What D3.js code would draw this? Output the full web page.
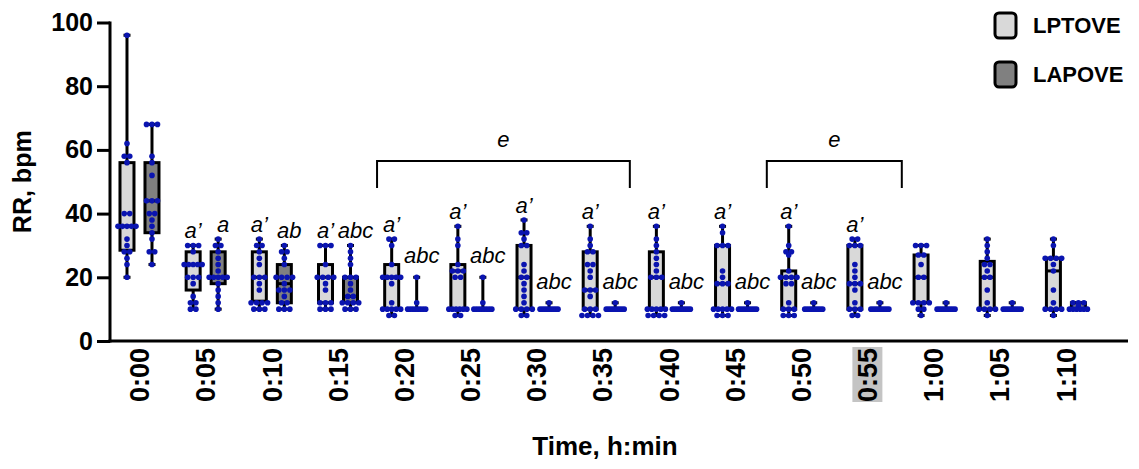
<!DOCTYPE html>
<html>
<head>
<meta charset="utf-8">
<script src="https://cdn.jsdelivr.net/npm/d3@7"></script>
<style>
  body { margin: 0; background: #fff; }
  text { font-family: "Liberation Sans", Arial, sans-serif; }
</style>
</head>
<body>
<script>
// time points (h:min)
const times = ["0:00","0:05","0:10","0:15","0:20","0:25","0:30","0:35","0:40","0:45","0:50","0:55","1:00","1:05","1:10"];
const seriesNames = ["LPTOVE", "LAPOVE"];

// box stats: [min, q1, median, q3, max]
const lptoveBox = [
  [20, 28.5, 36, 56, 96], [10, 16, 24, 28, 30], [10, 12.5, 20, 28, 32], [10, 12, 20, 24, 30],
  [8, 10, 20, 24, 32], [8, 10, 22, 24, 36], [8, 10, 20, 30, 38], [8, 10, 16, 28, 36],
  [8, 10, 20, 28, 36], [8, 10, 18, 30, 36], [8, 10, 20, 22, 36], [8, 10, 18, 30, 32],
  [8, 12, 20, 27, 30], [8, 10, 20, 25, 32], [8, 10, 22, 26, 32]
];
const lapoveBox = [
  [24, 34, 44, 56, 68], [10, 18, 20, 28, 32], [10, 12, 18, 24, 30], [10, 12, 14, 20, 30],
  [10, 10, 10, 10, 20], [10, 10, 10, 10, 20], [10, 10, 10, 10, 12], [10, 10, 10, 10, 12],
  [10, 10, 10, 10, 12], [10, 10, 10, 10, 12], [10, 10, 10, 10, 12], [10, 10, 10, 10, 12],
  [10, 10, 10, 10, 12], [10, 10, 10, 10, 12], [10, 10, 10, 12, 12]
];

// individual animals
const lptovePoints = [
  [96, 62, 58, 58, 56, 40, 40, 36, 36, 36, 36, 36, 32, 30, 28, 28, 26, 24, 20],
  [30, 30, 30, 28, 24, 24, 24, 24, 24, 20, 20, 20, 18, 14, 12, 12, 10, 10],
  [32, 30, 30, 28, 26, 24, 20, 20, 20, 18, 16, 12, 12, 12, 12, 10, 10, 10],
  [30, 30, 30, 24, 20, 20, 20, 20, 18, 16, 12, 12, 12, 10, 10, 10],
  [32, 32, 30, 24, 20, 20, 20, 20, 20, 18, 12, 10, 10, 10, 10, 10, 8, 8],
  [36, 32, 30, 24, 22, 22, 22, 20, 20, 10, 10, 10, 10, 10, 10, 8, 8],
  [38, 34, 34, 32, 30, 30, 24, 22, 20, 20, 18, 16, 14, 12, 10, 10, 10, 10, 8, 8],
  [36, 32, 30, 28, 28, 24, 24, 22, 20, 16, 16, 16, 14, 10, 10, 10, 8, 8, 8, 8],
  [36, 32, 30, 28, 26, 24, 22, 20, 20, 20, 10, 10, 10, 10, 10, 8, 8, 8, 8],
  [36, 34, 30, 30, 30, 22, 20, 18, 18, 18, 10, 10, 10, 10, 10, 8, 8, 8],
  [36, 30, 28, 28, 27, 22, 20, 20, 20, 20, 18, 18, 12, 10, 10, 10, 8, 8, 8],
  [32, 32, 30, 30, 30, 24, 22, 20, 18, 18, 18, 16, 12, 10, 10, 10, 8, 8],
  [30, 30, 30, 27, 27, 24, 20, 20, 12, 12, 12, 12, 10, 10, 8],
  [32, 30, 28, 26, 24, 24, 22, 20, 20, 16, 12, 10, 10, 10, 10, 8],
  [32, 30, 26, 26, 26, 26, 24, 22, 16, 12, 10, 10, 10, 10, 8]
];
const lapovePoints = [
  [68, 68, 68, 58, 56, 52, 44, 44, 44, 40, 40, 38, 36, 34, 32, 28, 28, 24],
  [32, 30, 30, 28, 26, 24, 22, 20, 20, 20, 20, 20, 18, 16, 14, 12, 10],
  [30, 28, 28, 26, 24, 20, 20, 20, 20, 18, 16, 16, 16, 14, 12, 12, 10, 10, 10],
  [30, 28, 26, 24, 20, 20, 20, 18, 16, 14, 14, 12, 12, 12, 12, 10, 10, 10],
  [20, 12, 10, 10, 10, 10, 10, 10, 10, 10],
  [20, 12, 10, 10, 10, 10, 10, 10, 10, 10],
  [12, 10, 10, 10, 10, 10, 10, 10, 10, 10],
  [12, 10, 10, 10, 10, 10, 10, 10, 10, 10],
  [12, 10, 10, 10, 10, 10, 10, 10, 10, 10],
  [12, 10, 10, 10, 10, 10, 10, 10, 10, 10],
  [12, 10, 10, 10, 10, 10, 10, 10, 10, 10],
  [12, 10, 10, 10, 10, 10, 10, 10, 10, 10],
  [12, 10, 10, 10, 10, 10, 10, 10, 10, 10],
  [12, 10, 10, 10, 10, 10, 10, 10, 10, 10],
  [12, 12, 12, 11, 10, 10, 10, 10, 10, 10]
];

// significance letters
const lptoveLetters = ["", "a’", "a’", "a’", "a’", "a’", "a’", "a’", "a’", "a’", "a’", "a’", "", "", ""];
const lapoveLetters = ["", "a", "ab", "abc", "abc", "abc", "abc", "abc", "abc", "abc", "abc", "abc", "", "", ""];
const brackets = [["0:20", "0:35", "e"], ["0:50", "0:55", "e"]];
const yTicks = [0, 20, 40, 60, 80, 100];

const W = 1139, H = 469;
const svg = d3.select("body").append("svg").attr("width", W).attr("height", H);

const x = d3.scaleBand().domain(times).range([106.4, 1099]);
const y = d3.scaleLinear().domain([0, 100]).range([341, 22.5]);
const off = { LPTOVE: -12.5, LAPOVE: 12.5 };
const fills = { LPTOVE: "#d9d9d9", LAPOVE: "#808080" };
const dotColor = "#0a14b0";
const bw = 14;

const series = [
  { name: "LPTOVE", box: lptoveBox, pts: lptovePoints, letters: lptoveLetters },
  { name: "LAPOVE", box: lapoveBox, pts: lapovePoints, letters: lapoveLetters }
];

// axes
const yAxis = svg.append("g")
  .attr("transform", "translate(110,0)")
  .call(d3.axisLeft(y).tickValues(yTicks).tickSize(13).tickSizeOuter(0).tickPadding(4));
yAxis.select(".domain").attr("stroke-width", 3).attr("d", `M0,${y(0) + 1.5}V${y(100) - 1}`);
yAxis.selectAll(".tick line").attr("stroke-width", 3);
yAxis.selectAll(".tick text").attr("font-size", 25).attr("font-weight", "bold").attr("fill", "#000");

const xAxis = svg.append("g")
  .attr("transform", `translate(0,${y(0)})`)
  .call(d3.axisBottom(x).tickSize(0));
xAxis.select(".domain").remove();
xAxis.selectAll(".tick").filter(d => d === "0:55")
  .insert("rect", "text")
  .attr("x", -15).attr("y", 6).attr("width", 30).attr("height", 55)
  .attr("fill", "#c4c4c4");
xAxis.selectAll(".tick text")
  .attr("transform", "rotate(-90)")
  .attr("x", -7).attr("y", 0).attr("dy", "0.36em")
  .attr("text-anchor", "end")
  .attr("font-size", 27).attr("font-weight", "bold").attr("fill", "#000");
svg.append("line")
  .attr("x1", 108.5).attr("x2", 1128)
  .attr("y1", y(0)).attr("y2", y(0))
  .attr("stroke", "#000").attr("stroke-width", 3);

// axis titles
svg.append("text")
  .attr("transform", `translate(31,${(y(0) + y(100)) / 2}) rotate(-90)`)
  .attr("text-anchor", "middle")
  .attr("font-size", 25).attr("font-weight", "bold")
  .text("RR, bpm");
svg.append("text")
  .attr("x", 605).attr("y", 455)
  .attr("text-anchor", "middle")
  .attr("font-size", 26).attr("font-weight", "bold")
  .text("Time, h:min");

// boxes
series.forEach(s => {
  const g = svg.append("g");
  s.box.forEach((b, i) => {
    const cx = x(times[i]) + x.bandwidth() / 2 + off[s.name];
    const [mn, q1, md, q3, mx] = b;
    g.append("line").attr("x1", cx).attr("x2", cx).attr("y1", y(mn)).attr("y2", y(mx))
      .attr("stroke", "#000").attr("stroke-width", 3);
    [mn, mx].forEach(v => g.append("line")
      .attr("x1", cx - 3.5).attr("x2", cx + 3.5).attr("y1", y(v)).attr("y2", y(v))
      .attr("stroke", "#000").attr("stroke-width", 3));
    if (q3 > q1) {
      g.append("rect")
        .attr("x", cx - bw / 2).attr("y", y(q3))
        .attr("width", bw).attr("height", y(q1) - y(q3))
        .attr("fill", fills[s.name]).attr("stroke", "#000").attr("stroke-width", 3);
      g.append("line").attr("x1", cx - bw / 2).attr("x2", cx + bw / 2)
        .attr("y1", y(md)).attr("y2", y(md))
        .attr("stroke", "#000").attr("stroke-width", 3);
    }
  });
});

// dots (simple horizontal spread of equal values)
series.forEach(s => {
  const g = svg.append("g");
  s.pts.forEach((arr, i) => {
    const cx = x(times[i]) + x.bandwidth() / 2 + off[s.name];
    const counts = d3.rollup(arr, v => v.length, d => d);
    counts.forEach((n, v) => {
      const sp = n > 1 ? Math.min(5.5, 18 / (n - 1)) : 0;
      for (let k = 0; k < n; k++) {
        g.append("circle")
          .attr("cx", cx + (k - (n - 1) / 2) * sp)
          .attr("cy", y(v))
          .attr("r", 2.8)
          .attr("fill", dotColor);
      }
    });
  });
});

// letters above whiskers
series.forEach(s => {
  s.letters.forEach((t, i) => {
    if (!t) return;
    const mx = s.box[i][4];
    const cx = x(times[i]) + x.bandwidth() / 2 + off[s.name] + (s.name === "LAPOVE" ? 5 : 0);
    const gap = (s.name === "LAPOVE" && mx < 25) ? 14 : 7;
    svg.append("text")
      .attr("x", cx).attr("y", y(mx) - gap)
      .attr("text-anchor", "middle")
      .attr("font-size", 22).attr("font-style", "italic")
      .text(t);
  });
});

// brackets
const bracketPad = [0.41, 0.52];
brackets.forEach((b, j) => {
  const x1 = x(b[0]) + x.bandwidth() / 2 - bracketPad[j] * x.step();
  const x2 = x(b[1]) + x.bandwidth() / 2 + bracketPad[j] * x.step();
  svg.append("path")
    .attr("d", `M${x1},${y(48)}V${y(56.5)}H${x2}V${y(48)}`)
    .attr("fill", "none").attr("stroke", "#000").attr("stroke-width", 2);
  svg.append("text")
    .attr("x", (x1 + x2) / 2).attr("y", y(61))
    .attr("text-anchor", "middle")
    .attr("font-size", 22).attr("font-style", "italic")
    .text(b[2]);
});

// legend
const leg = svg.append("g");
seriesNames.forEach((n, i) => {
  const ly = 13 + i * 49;
  leg.append("rect")
    .attr("x", 995).attr("y", ly).attr("width", 21).attr("height", 25).attr("rx", 4)
    .attr("fill", fills[n]).attr("stroke", "#000").attr("stroke-width", 3);
  leg.append("text")
    .attr("x", 1033).attr("y", ly + 12.5).attr("dy", "0.36em")
    .attr("font-size", 22).attr("font-weight", "bold")
    .text(n);
});
</script>
</body>
</html>
